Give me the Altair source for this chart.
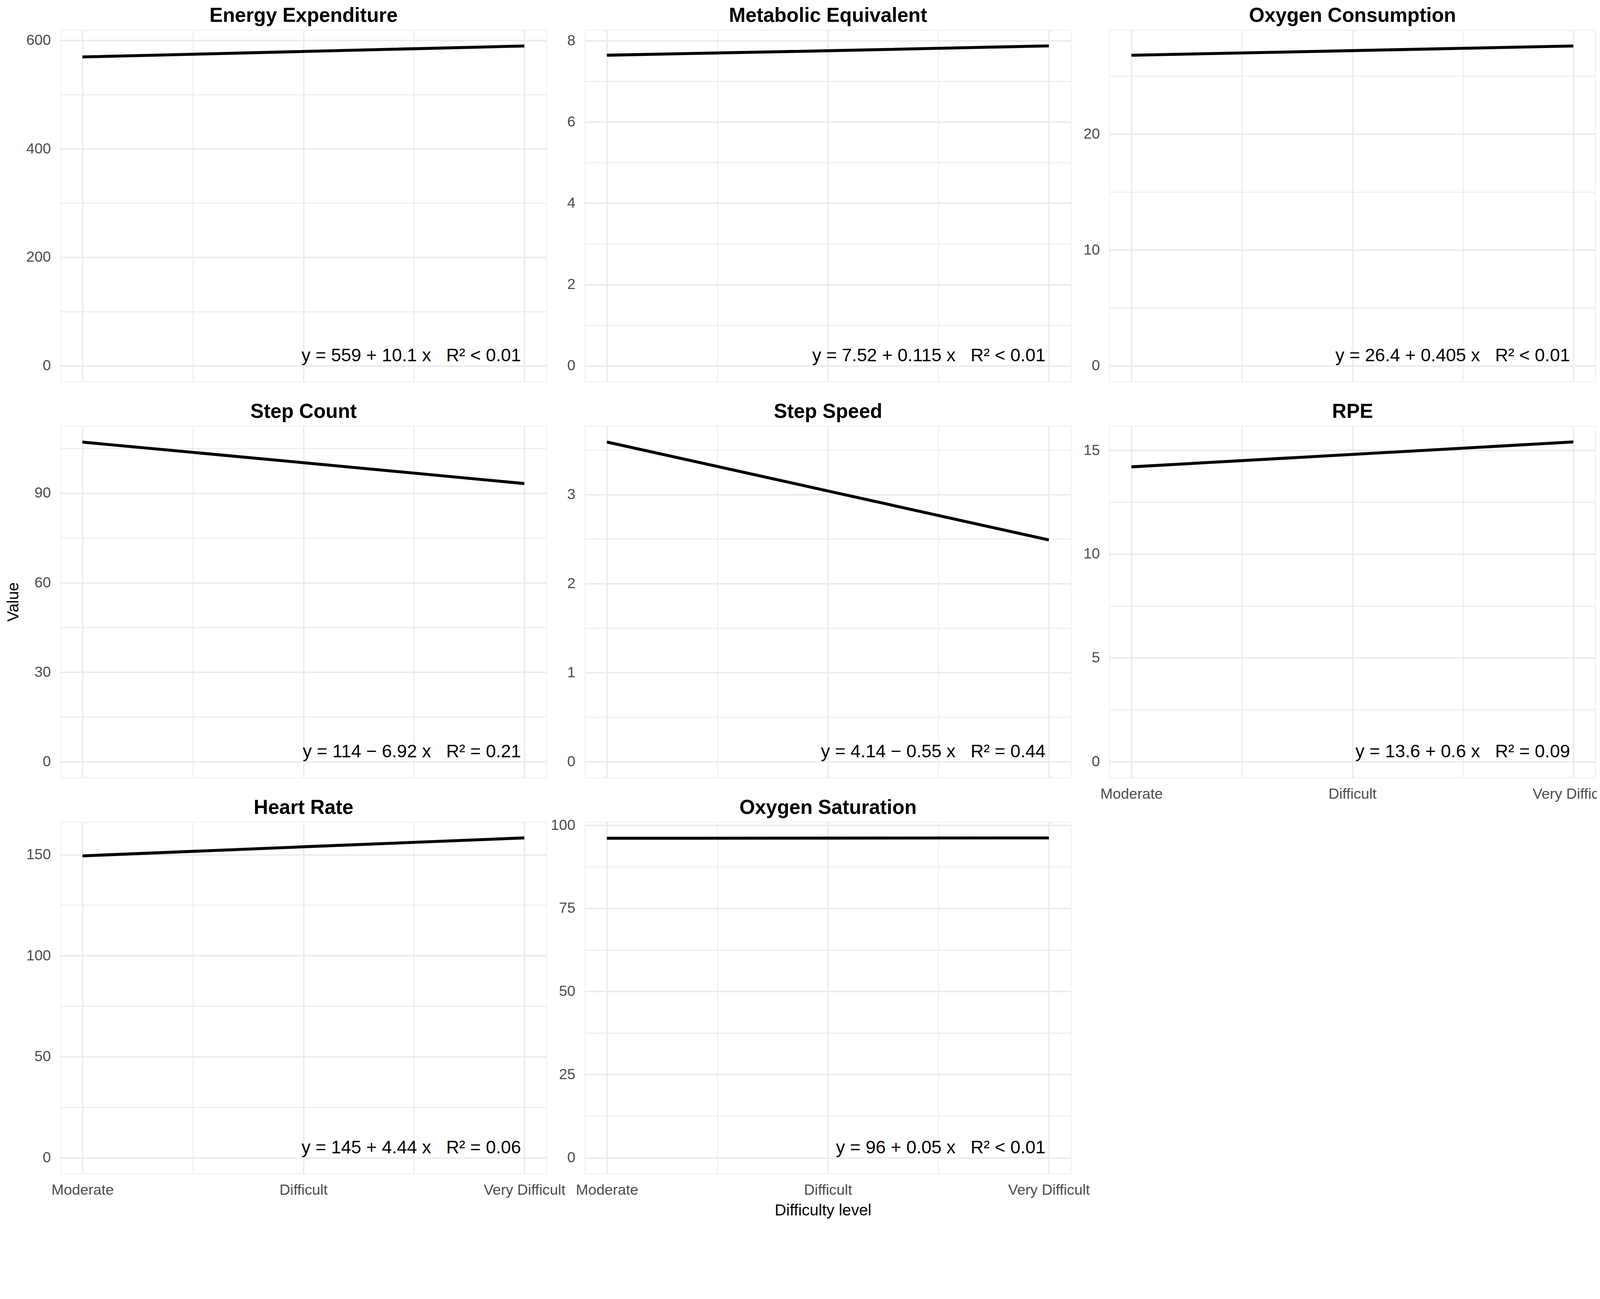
import altair as alt
import pandas as pd

FONT = "Liberation Sans"

# ---- data ----
panel_titles = ["Energy Expenditure", "Metabolic Equivalent", "Oxygen Consumption",
                "Step Count", "Step Speed", "RPE", "Heart Rate", "Oxygen Saturation"]
levels = ["Moderate", "Difficult", "Very Difficult"]
level_pos = [1, 2, 3]

energy = [569.1, 579.2, 589.3]
met = [7.64, 7.75, 7.87]
o2 = [26.8, 27.2, 27.6]
steps = [107.1, 100.2, 93.2]
speed = [3.59, 3.04, 2.49]
rpe = [14.2, 14.8, 15.4]
hr = [149.4, 153.9, 158.3]
spo2 = [96.05, 96.10, 96.15]
series = [energy, met, o2, steps, speed, rpe, hr, spo2]

eq_labels = [
    "y = 559 + 10.1 x\u00a0\u00a0\u00a0R\u00b2 < 0.01",
    "y = 7.52 + 0.115 x\u00a0\u00a0\u00a0R\u00b2 < 0.01",
    "y = 26.4 + 0.405 x\u00a0\u00a0\u00a0R\u00b2 < 0.01",
    "y = 114 \u2212 6.92 x\u00a0\u00a0\u00a0R\u00b2 = 0.21",
    "y = 4.14 \u2212 0.55 x\u00a0\u00a0\u00a0R\u00b2 = 0.44",
    "y = 13.6 + 0.6 x\u00a0\u00a0\u00a0R\u00b2 = 0.09",
    "y = 145 + 4.44 x\u00a0\u00a0\u00a0R\u00b2 = 0.06",
    "y = 96 + 0.05 x\u00a0\u00a0\u00a0R\u00b2 < 0.01",
]

y_domains = [[-29.5, 618.8], [-0.39, 8.26], [-1.38, 28.98], [-5.36, 112.5],
             [-0.18, 3.77], [-0.77, 16.17], [-7.92, 166.2], [-4.81, 100.96]]
y_major = [[0, 200, 400, 600], [0, 2, 4, 6, 8], [0, 10, 20], [0, 30, 60, 90],
           [0, 1, 2, 3], [0, 5, 10, 15], [0, 50, 100, 150], [0, 25, 50, 75, 100]]
y_minor = [[100, 300, 500], [1, 3, 5, 7], [5, 15, 25], [15, 45, 75, 105],
           [0.5, 1.5, 2.5, 3.5], [2.5, 7.5, 12.5], [25, 75, 125], [12.5, 37.5, 62.5, 87.5]]

x_domain = [0.9, 3.1]
x_minor = [1.5, 2.5]

# ---- styling ----
W, H = 1317, 953
GRID = "#EBEBEB"
TICK_COL = "#4D4D4D"

x_label_expr = " : ".join(
    f"datum.value == {p} ? '{lab}'" for p, lab in zip(level_pos, levels)) + " : ''"


def panel(i, show_x_labels=False, y_title=False, x_title=False):
    df = pd.DataFrame({"pos": level_pos, "value": series[i]})
    eq = pd.DataFrame({"pos": [level_pos[-1]], "value": [0], "label": [eq_labels[i]]})

    major_list = "[" + ",".join(str(v) for v in y_major[i]) + "]"
    y_vals = sorted(y_major[i] + y_minor[i])

    y_axis_kw = dict(
        values=y_vals, format="~r",
        labelExpr=f"indexof({major_list}, datum.value) >= 0 ? datum.label : ''",
        grid=True, gridColor=GRID,
        gridWidth={"condition": {"test": f"indexof({major_list}, datum.value) >= 0", "value": 4},
                   "value": 2.5},
        domain=False, ticks=False, tickSize=0,
        labelPadding=26, labelFontSize=40, labelColor=TICK_COL, labelFont=FONT,
        labelOverlap=False, labelLimit=1000,
    )
    if y_title:
        y_axis_kw.update(title="Value", titleX=-127, titleY=H / 2, titleAngle=270,
                         titleAlign="center", titleBaseline="middle",
                         titleFontSize=43, titleFontWeight="normal", titleColor="black",
                         titleFont=FONT)
    else:
        y_axis_kw.update(title=None)

    x_axis_kw = dict(
        values=sorted(level_pos + x_minor),
        labelExpr=x_label_expr,
        labels=show_x_labels,
        grid=True, gridColor=GRID,
        gridWidth={"condition": {"test": "datum.value % 1 === 0", "value": 4}, "value": 2.5},
        domain=False, ticks=False, tickSize=0,
        labelPadding=25, labelFontSize=40, labelColor=TICK_COL, labelFont=FONT,
        labelOverlap=False, labelFlush=False, labelLimit=1000,
    )
    if x_title:
        x_axis_kw.update(title="Difficulty level", titleX=645, titleY=100,
                         titleAlign="center", titleBaseline="middle",
                         titleFontSize=43, titleFontWeight="normal", titleColor="black",
                         titleFont=FONT)
    else:
        x_axis_kw.update(title=None)

    # panel strip title drawn as the title of a top axis
    top_axis = alt.Axis(orient="top", labels=False, grid=False, domain=False, ticks=False,
                        tickSize=0, title=panel_titles[i], titleX=W / 2, titleY=-22,
                        titleAlign="center", titleBaseline="alphabetic", titleFontSize=54,
                        titleFontWeight="bold", titleColor="black", titleFont=FONT)

    x_scale = alt.Scale(domain=x_domain, nice=False, zero=False)
    y_scale = alt.Scale(domain=y_domains[i], nice=False, zero=False)

    line = alt.Chart(df).mark_line(color="black", strokeWidth=8).encode(
        x=alt.X("pos:Q", scale=x_scale, axis=alt.Axis(**x_axis_kw)),
        y=alt.Y("value:Q", scale=y_scale, axis=alt.Axis(**y_axis_kw)))
    text = alt.Chart(eq).mark_text(align="right", baseline="alphabetic", dx=-9, dy=-12,
                                   fontSize=49, font=FONT, color="black").encode(
        x=alt.X("pos:Q", scale=x_scale, axis=top_axis),
        y=alt.Y("value:Q", scale=y_scale), text="label:N")

    return alt.layer(line, text).resolve_axis(x="independent").properties(width=W, height=H)


p = [
    panel(0), panel(1), panel(2),
    panel(3, y_title=True), panel(4), panel(5, show_x_labels=True),
    panel(6, show_x_labels=True), panel(7, show_x_labels=True, x_title=True),
]

chart = alt.concat(*p, columns=3, spacing={"row": 120, "column": 104},
                   bounds="flush").properties(
    padding={"left": 6, "top": -84, "right": -48, "bottom": -90},
    background="white",
).configure_view(strokeWidth=0).configure(font=FONT)

chart.save("out.html", embed_options={"renderer": "svg", "actions": False})
